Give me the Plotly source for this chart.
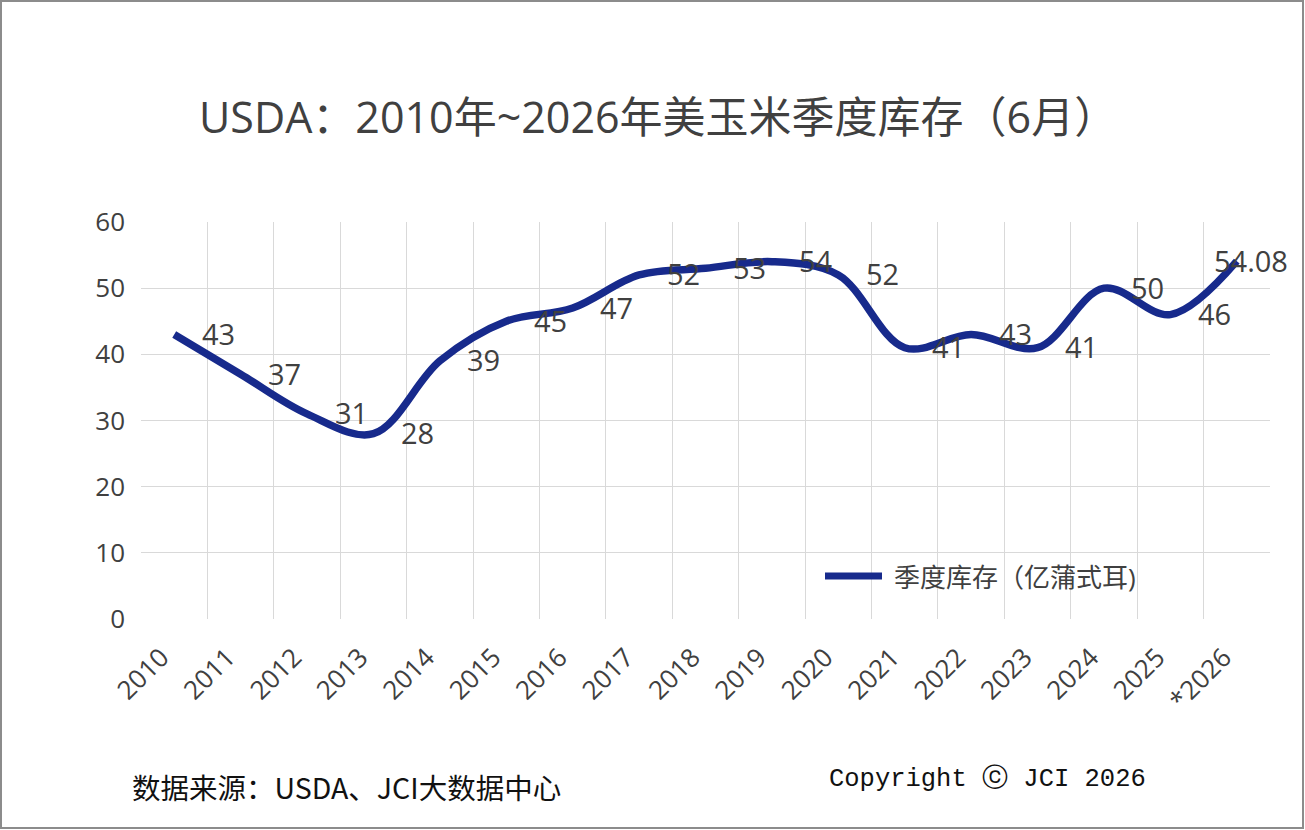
import plotly.graph_objects as go

# 数据
years = ["2010", "2011", "2012", "2013", "2014", "2015", "2016", "2017", "2018",
         "2019", "2020", "2021", "2022", "2023", "2024", "2025", "*2026"]
stocks = [43, 37, 31, 28, 39, 45, 47, 52, 53, 54, 52, 41, 43, 41, 50, 46, 54.08]
series_name = "季度库存（亿蒲式耳)"
title_text = "USDA：2010年~2026年美玉米季度库存（6月）"
source_text = "数据来源：USDA、JCI大数据中心"
copyright_text = "Copyright ⓒ JCI 2026"

W, H = 1305, 830
L, R, T, B = 141, 35, 222, 211
pw, ph = W - L - R, H - T - B


def px_x(p):
    return (p - L) / pw


def px_y(p):
    return (H - B - p) / ph


navy = "#172a8c"
txt = "#404040"
grid = "#d9d9d9"
font_main = "Open Sans, Noto Sans CJK SC, sans-serif"

fig = go.Figure()
fig.add_trace(go.Scatter(
    x=years, y=stocks, mode="lines", name=series_name,
    line=dict(color=navy, width=7.5, shape="spline", smoothing=1.0),
    showlegend=False, cliponaxis=False,
))

# 数据标签（放在点的右侧）
for i, v in enumerate(stocks):
    label = "{:g}".format(v)
    shift = 14 if i == len(years) - 1 else 44
    fig.add_annotation(x=i, y=v, text=label, showarrow=False,
                       xshift=shift, yshift=1, yanchor="middle",
                       font=dict(size=29, color=txt, family=font_main))

# 图例（手工绘制）
fig.add_shape(type="line", xref="paper", yref="paper",
              x0=px_x(825), x1=px_x(882), y0=px_y(576), y1=px_y(576),
              line=dict(color=navy, width=7))
fig.add_annotation(xref="paper", yref="paper", x=px_x(892), y=px_y(577),
                   text=series_name, showarrow=False, xanchor="left", yanchor="middle",
                   font=dict(size=26, color=txt, family=font_main))

# 标题和脚注
fig.add_annotation(xref="paper", yref="paper", x=px_x(658), y=px_y(117),
                   text=title_text, showarrow=False, yanchor="middle",
                   font=dict(size=43, color=txt, family=font_main))
fig.add_annotation(xref="paper", yref="paper", x=px_x(130), y=px_y(786),
                   text=source_text, showarrow=False, xanchor="left", yanchor="middle",
                   font=dict(size=28.5, color="#111111", family="Noto Sans CJK SC"))
fig.add_annotation(xref="paper", yref="paper", x=px_x(827), y=px_y(779),
                   text=copyright_text, showarrow=False, xanchor="left", yanchor="middle",
                   font=dict(size=25.5, color="#111111", family="Liberation Mono"))

# 外框
fig.add_shape(type="rect", xref="paper", yref="paper",
              x0=px_x(1), x1=px_x(W - 2), y0=px_y(1), y1=px_y(H - 2),
              line=dict(color="#8c8c8c", width=2), layer="below")

fig.update_layout(
    width=W, height=H,
    margin=dict(l=L, r=R, t=T, b=B),
    paper_bgcolor="white", plot_bgcolor="white",
    font=dict(family=font_main, color=txt),
)
fig.update_xaxes(
    type="category", range=[-0.5, len(years) - 0.5],
    tickson="boundaries", showgrid=True, gridcolor=grid, gridwidth=1,
    ticks="", tickangle=-45, tickfont=dict(size=26, color=txt),
    ticklabelstandoff=17, ticklabelshift=-13,
    showline=False, zeroline=False,
)
fig.update_yaxes(
    range=[0, 60], dtick=10, showgrid=True, gridcolor=grid, gridwidth=1,
    ticks="", tickfont=dict(size=26, color=txt), ticklabelstandoff=15,
    zeroline=False, showline=False,
)

fig.write_html("out.html", config={"displayModeBar": False},
               post_script="document.body.style.margin='0';")
